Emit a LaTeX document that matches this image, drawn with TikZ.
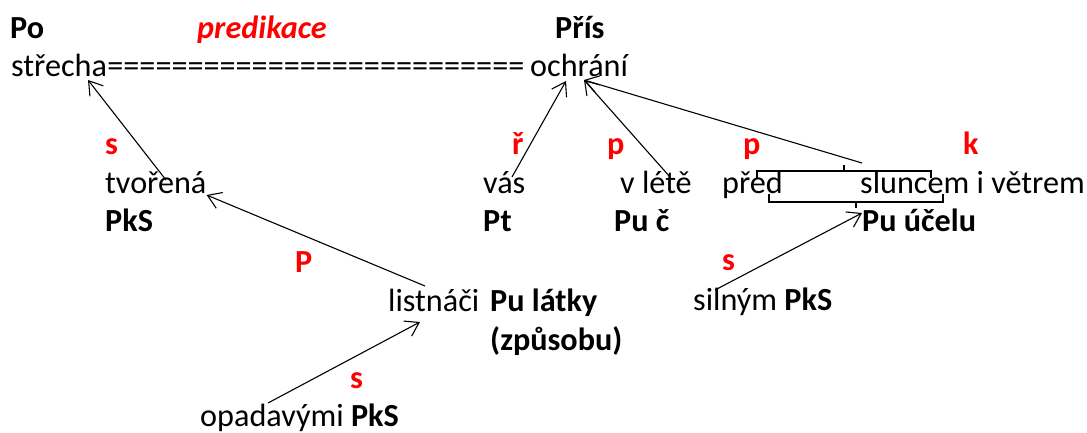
\documentclass[tikz,border=0pt]{standalone}
\usepackage{fontspec}
\setmainfont{Carlito}
\usepackage{xcolor}
\usetikzlibrary{positioning,calc,arrows.meta}

\begin{document}
\begin{tikzpicture}[x=1pt, y=-1pt,
		txt/.style={anchor=base west, inner sep=0pt, font=\fontsize{32.2}{38}\selectfont},
		fun/.style={txt, font=\fontsize{32.2}{38}\selectfont\bfseries},
		vztah/.style={txt, text=red, font=\fontsize{32.2}{38}\selectfont\bfseries},
		arr/.style={-{Straight Barb[length=13pt,width=17pt]}, line width=1.1pt},
		zavorka/.style={line width=1.1pt}]
				\useasboundingbox (0,0) rectangle (1087,432);
				% hlavni radek
				\node[fun] (po) at (10,38) {Po};
				\node[txt, text=red, font=\fontsize{32.2}{38}\selectfont\bfseries\itshape] (pred) at (197,38) {predikace};
				\node[fun] (pris) at (555,38) {Přís};
				\node[txt] (strecha) at (11,76) {střecha};
				\node[txt, base right=0pt of strecha] (rovno) {==========================};
				\node[txt] (ochrani) at (530,76) {ochrání};
				% vztahy
				\node[vztah] (s1) at (105,154) {s};
				\node[vztah] (r1) at (512,154) {ř};
				\node[vztah] (p1) at (607,154) {p};
				\node[vztah] (p2) at (743,154) {p};
				\node[vztah] (k1) at (963,154) {k};
				\node[vztah] (p3) at (295,272) {P};
				\node[vztah] (s2) at (722,270) {s};
				\node[vztah] (s3) at (350,388) {s};
				% clenove
				\node[txt] (tvorena) at (105,193) {tvořená};
				\node[fun] (pks1) at (105,231) {PkS};
				\node[txt] (vas) at (483,193) {vás};
				\node[fun] (pt) at (483,231) {Pt};
				\node[txt] (vlete) at (620,193) {v létě};
				\node[fun] (puc) at (614,231) {Pu č};
				\node[txt] (predslovo) at (722,193) {před};
				\node[txt] (slunce) at (860,193) {sluncem i větrem};
				\node[fun] (ucel) at (862,231) {Pu účelu};
				\node[txt] (listnaci) at (388,311) {listnáči};
				\node[fun] (latky) at (490,311) {Pu látky};
				\node[fun] (zpusob) at (490,350) {(způsobu)};
				\node[txt] (silnym) at (693,310) {silným \textbf{PkS}};
				\node[txt] (opadavymi) at (200,426) {opadavými \textbf{PkS}};
				% zavorky
				\draw[zavorka] (757,178) -- (757,171) -- (931,171) -- (931,178);
				\draw[zavorka] (844,171) -- (844,165);
				\draw[zavorka] (769,194) -- (769,202) -- (943,202) -- (943,194);
				\draw[zavorka] (856,202) -- (856,208);
				\coordinate (brk) at (862,163);
				% sipky
				\draw[arr] ($(tvorena.base west)+(61,-13)$) -- ($(strecha.base west)+(77,4)$);
				\draw[arr] ($(listnaci.base west)+(37,-25)$) -- ($(tvorena.base east)+(0,2)$);
				\draw[arr] ($(opadavymi.base west)+(68,-23)$) -- ($(listnaci.base west)+(32,11)$);
				\draw[arr] ($(vas.base west)+(29,-16)$) -- ($(ochrani.base west)+(36,5)$);
				\draw[arr] ($(vlete.base west)+(50,-16)$) -- ($(ochrani.base west)+(54,4)$);
				\draw[arr] (brk) -- ($(ochrani.base west)+(54,4)$);
				\draw[arr] ($(silnym.base west)+(22,-20)$) -- ($(ucel.base west)+(0,-18)$);
			\end{tikzpicture}
\end{document}
